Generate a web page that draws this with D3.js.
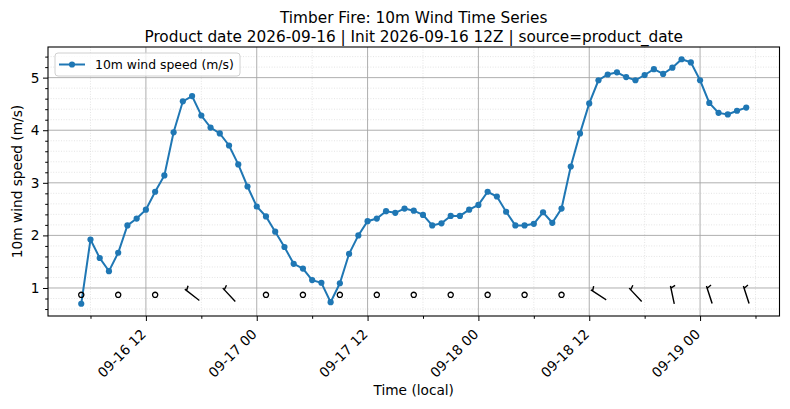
<!DOCTYPE html>
<html>
<head>
<meta charset="utf-8">
<script src="https://cdn.jsdelivr.net/npm/d3@7"></script>
<style>
  body { margin: 0; background: #fff; }
  svg text { font-family: "DejaVu Sans", sans-serif; fill: #000; }
</style>
</head>
<body>
<div id="chart"></div>
<script>
var width = 790;
var height = 409;

// hourly series, local time, starting 09-16 05:00
var startTime = "2026-09-16T05:00:00Z";
var speed = [0.70, 1.92, 1.57, 1.32, 1.67, 2.19, 2.32, 2.49, 2.83, 3.14,
             3.96, 4.55, 4.65, 4.28, 4.05, 3.94, 3.71, 3.35, 2.93, 2.55,
             2.36, 2.07, 1.78, 1.46, 1.37, 1.15, 1.10, 0.73, 1.09, 1.65,
             2.00, 2.27, 2.32, 2.46, 2.43, 2.51, 2.47, 2.39, 2.19, 2.23,
             2.37, 2.37, 2.49, 2.58, 2.83, 2.74, 2.45, 2.19, 2.19, 2.22,
             2.44, 2.24, 2.51, 3.31, 3.94, 4.51, 4.95, 5.06, 5.10, 5.01,
             4.95, 5.05, 5.16, 5.07, 5.19, 5.35, 5.29, 4.95, 4.52, 4.33,
             4.30, 4.37, 4.43];

// wind barbs every 4th hour; null = calm (drawn as circle), else direction (deg, from)
var barbStep = 4;
var barbLevel = 0.87;
var barbDir = [null, null, null, 308, 317, null, null, null, null, null,
               null, null, null, null, 303, 317, 348, 342, 342];

var yTicks = [1, 2, 3, 4, 5];
var seriesLabel = "10m wind speed (m/s)";
var titleLines = ["Timber Fire: 10m Wind Time Series",
                  "Product date 2026-09-16 | Init 2026-09-16 12Z | source=product_date"];
var xLabel = "Time (local)";
var yLabel = "10m wind speed (m/s)";

var blue = "#1f77b4";
var margin = {top: 47, right: 10.5, bottom: 93, left: 48};
var iw = width - margin.left - margin.right;
var ih = height - margin.top - margin.bottom;

var t0 = new Date(startTime);
var data = speed.map(function(v, i) {
    return {t: new Date(t0.getTime() + i * 3600e3), v: v};
});
var barbs = barbDir.map(function(d, i) {
    return {t: data[i * barbStep].t, dir: d};
});

var tExt = d3.extent(data, function(d) { return d.t; });
var tPad = (tExt[1] - tExt[0]) * 0.05;
var x = d3.scaleUtc()
    .domain([new Date(+tExt[0] - tPad), new Date(+tExt[1] + tPad)])
    .range([0, iw]);

var yMin = Math.min(d3.min(speed), barbLevel), yMax = d3.max(speed);
var yPad = (yMax - yMin) * 0.05;
var y = d3.scaleLinear()
    .domain([yMin - yPad, yMax + yPad])
    .range([ih, 0]);

var svg = d3.select("#chart").append("svg")
    .attr("width", width)
    .attr("height", height);

var g = svg.append("g")
    .attr("transform", "translate(" + margin.left + "," + margin.top + ")");

var majorT = x.ticks(d3.utcHour.every(12));
var minorT = x.ticks(d3.utcHour.every(6)).filter(function(d) { return d.getUTCHours() % 12 != 0; });
var minorY = d3.range(0.6, 5.5, 0.2).filter(function(v) { return Math.abs(v - Math.round(v)) > 0.01; });

// minor grid
g.append("g").selectAll("line.mx").data(minorT).enter().append("line")
    .attr("x1", function(d) { return x(d); }).attr("x2", function(d) { return x(d); })
    .attr("y1", 0).attr("y2", ih)
    .attr("stroke", "#d9d9d9").attr("stroke-width", 0.7).attr("stroke-dasharray", "1,1.6");
g.append("g").selectAll("line.my").data(minorY).enter().append("line")
    .attr("y1", function(d) { return y(d); }).attr("y2", function(d) { return y(d); })
    .attr("x1", 0).attr("x2", iw)
    .attr("stroke", "#d9d9d9").attr("stroke-width", 0.7).attr("stroke-dasharray", "1,1.6");

// major grid
g.append("g").selectAll("line").data(majorT).enter().append("line")
    .attr("x1", function(d) { return x(d); }).attr("x2", function(d) { return x(d); })
    .attr("y1", 0).attr("y2", ih)
    .attr("stroke", "#a6a6a6").attr("stroke-width", 0.9);
g.append("g").selectAll("line").data(yTicks).enter().append("line")
    .attr("y1", function(d) { return y(d); }).attr("y2", function(d) { return y(d); })
    .attr("x1", 0).attr("x2", iw)
    .attr("stroke", "#a6a6a6").attr("stroke-width", 0.9);

// series
var line = d3.line()
    .x(function(d) { return x(d.t); })
    .y(function(d) { return y(d.v); });

g.append("path")
    .datum(data)
    .attr("d", line)
    .attr("fill", "none")
    .attr("stroke", blue)
    .attr("stroke-width", 2);

g.append("g").selectAll("circle").data(data).enter().append("circle")
    .attr("cx", function(d) { return x(d.t); })
    .attr("cy", function(d) { return y(d.v); })
    .attr("r", 3.1)
    .attr("fill", blue);

// wind barbs (pivot at middle)
var barbLen = 17;
var bg = g.append("g").selectAll("g").data(barbs).enter().append("g")
    .attr("transform", function(d) { return "translate(" + x(d.t) + "," + y(barbLevel) + ")"; });

bg.filter(function(d) { return d.dir === null; })
    .append("circle")
    .attr("r", 2.6)
    .attr("fill", "none")
    .attr("stroke", "#000")
    .attr("stroke-width", 1.3);

bg.filter(function(d) { return d.dir !== null; })
    .append("path")
    .attr("d", function(d) {
        var a = d.dir * Math.PI / 180;
        var ux = Math.sin(a), uy = -Math.cos(a);   // toward where wind comes from
        var h = barbLen / 2;
        var ex = ux * h, ey = uy * h;
        // half barb, a little in from the end, on the clockwise side
        var bx = ux * (h - 1.5), by = uy * (h - 1.5);
        var px = -uy, py = ux;
        var tx = bx + px * 4 + ux * 1.5, ty = by + py * 4 + uy * 1.5;
        return "M" + (-ex) + "," + (-ey) + "L" + ex + "," + ey +
               "M" + bx + "," + by + "L" + tx + "," + ty;
    })
    .attr("fill", "none")
    .attr("stroke", "#000")
    .attr("stroke-width", 1.4)
    .attr("stroke-linecap", "square");

// axes
g.append("g")
    .attr("transform", "translate(0," + ih + ")")
    .call(d3.axisBottom(x).tickValues(majorT).tickSize(5).tickFormat(""));
g.append("g")
    .attr("transform", "translate(0," + ih + ")")
    .call(d3.axisBottom(x).tickValues(minorT).tickSize(2.8).tickFormat(""));

var fmt = d3.utcFormat("%m-%d %H");
g.append("g").selectAll("text").data(majorT).enter().append("text")
    .attr("transform", function(d) { return "translate(" + (x(d) + 1) + "," + (ih + 19) + ") rotate(-45)"; })
    .attr("text-anchor", "end")
    .style("font-size", "13.7px")
    .text(fmt);

var yAxis = g.append("g")
    .call(d3.axisLeft(y).tickValues(yTicks).tickSize(5).tickPadding(3.5).tickFormat(d3.format("d")));
yAxis.selectAll("text").style("font-size", "13.7px").attr("fill", "#000");
g.append("g")
    .call(d3.axisLeft(y).tickValues(minorY).tickSize(2.8).tickFormat(""));

g.selectAll(".domain").remove();
g.selectAll(".tick line").attr("stroke", "#000").attr("stroke-width", 1);

// frame
g.append("rect")
    .attr("width", iw).attr("height", ih)
    .attr("fill", "none").attr("stroke", "#000").attr("stroke-width", 1.1);

// legend
var lg = g.append("g").attr("transform", "translate(7,6)");
lg.append("rect")
    .attr("width", 185).attr("height", 23)
    .attr("rx", 3)
    .attr("fill", "#fff").attr("fill-opacity", 0.8)
    .attr("stroke", "#d0d0d0").attr("stroke-width", 1);
lg.append("line")
    .attr("x1", 4).attr("x2", 30).attr("y1", 11.5).attr("y2", 11.5)
    .attr("stroke", blue).attr("stroke-width", 2);
lg.append("circle").attr("cx", 17).attr("cy", 11.5).attr("r", 3.1).attr("fill", blue);
lg.append("text")
    .attr("x", 40).attr("y", 16)
    .style("font-size", "12.4px")
    .text(seriesLabel);

// labels
svg.append("text")
    .attr("x", margin.left + iw / 2).attr("y", 395)
    .attr("text-anchor", "middle")
    .style("font-size", "13.7px")
    .text(xLabel);

svg.append("text")
    .attr("transform", "translate(22," + (margin.top + ih / 2) + ") rotate(-90)")
    .attr("text-anchor", "middle")
    .style("font-size", "13.7px")
    .text(yLabel);

svg.selectAll("text.title").data(titleLines).enter().append("text")
    .attr("class", "title")
    .attr("x", margin.left + iw / 2)
    .attr("y", function(d, i) { return 23 + i * 18.5; })
    .attr("text-anchor", "middle")
    .style("font-size", "15.3px")
    .text(function(d) { return d; });
</script>
</body>
</html>
